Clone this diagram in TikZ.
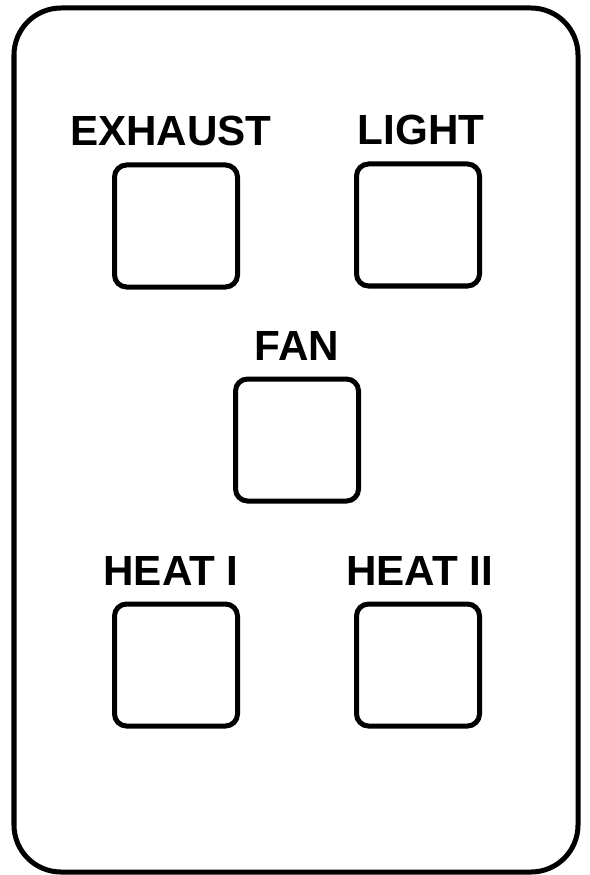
\documentclass[tikz,border=0pt]{standalone}
\usepackage{fontspec}
\setmainfont{Liberation Sans}
\usetikzlibrary{positioning}
\tikzset{
	btn/.style={draw, line width=0.1cm, rounded corners=0.24cm, minimum width=2.46cm, minimum height=2.44cm, inner sep=0pt, outer sep=0pt},
	btnlabel/.style={inner sep=0pt, outer sep=0pt, font=\fontsize{24}{28}\selectfont\bfseries}
}
\begin{document}
\begin{tikzpicture}
	\useasboundingbox (0,0) rectangle (11.78,-17.5);
	\draw[line width=0.1cm, rounded corners=0.94cm] (0.28,-0.16) rectangle (11.56,-17.44);

	% buttons with their labels
	\foreach \name/\x/\y/\dx/\txt in {exhaust/3.52/-4.52/-0.1/EXHAUST, light/8.36/-4.5/0.06/LIGHT, fan/5.94/-8.8/0/FAN, heatone/3.52/-13.3/-0.1/HEAT I, heattwo/8.36/-13.3/0.03/HEAT II}{
		\node[btn] (\name) at (\x,\y) {};
		\node[btnlabel, above=0.38cm of \name, xshift=\dx cm] (\name-label) {\txt};
	}
\end{tikzpicture}
\end{document}
